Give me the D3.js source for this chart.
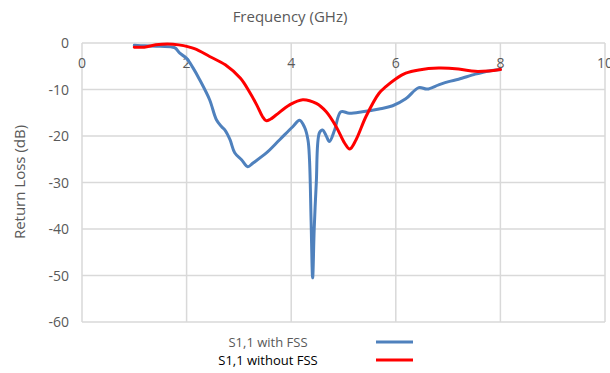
<!DOCTYPE html>
<html>
<head>
<meta charset="utf-8">
<script src="https://cdn.jsdelivr.net/npm/d3@7"></script>
<style>
  body { margin: 0; background: #fff; }
  text { font-family: "Open Sans", "Liberation Sans", sans-serif; }
</style>
</head>
<body>
<div id="chart"></div>
<script>
// frequency (GHz) / return loss (dB)
var freqWith = [1.0, 1.2, 1.5, 1.77, 1.87, 2.0, 2.12, 2.25, 2.44, 2.57, 2.67, 2.73, 2.83, 2.92, 3.05, 3.17, 3.27, 3.52, 3.78, 4.03, 4.16, 4.25, 4.32, 4.35, 4.38, 4.41, 4.44, 4.48, 4.54, 4.6, 4.67, 4.73, 4.83, 4.95, 5.11, 5.36, 5.68, 5.94, 6.19, 6.44, 6.6, 6.82, 7.01, 7.2, 7.52, 7.78, 8.0];
var lossWith = [-0.5, -0.6, -0.7, -1.0, -2.2, -3.3, -5.3, -7.9, -12.2, -16.5, -18.0, -18.7, -20.8, -23.6, -25.1, -26.6, -25.8, -23.7, -20.8, -18.0, -16.6, -18.0, -20.8, -25.1, -38, -50.5, -40, -30, -19.3, -18.7, -20.0, -21.2, -18.7, -14.8, -15.1, -14.8, -14.2, -13.5, -12.0, -9.6, -9.9, -9.0, -8.3, -7.8, -6.7, -6.0, -5.7];

var freqWithout = [1.0, 1.19, 1.41, 1.63, 1.85, 2.15, 2.44, 2.74, 3.03, 3.2, 3.34, 3.45, 3.52, 3.6, 3.71, 3.97, 4.22, 4.48, 4.67, 4.86, 5.02, 5.12, 5.24, 5.43, 5.68, 5.81, 5.99, 6.19, 6.44, 6.82, 7.2, 7.52, 7.78, 8.0];
var lossWithout = [-0.9, -0.9, -0.4, -0.2, -0.4, -1.2, -2.9, -4.7, -7.6, -10.5, -13.3, -15.8, -16.7, -16.4, -15.5, -13.3, -12.2, -13.0, -14.8, -18.0, -21.5, -22.8, -20.8, -15.8, -10.8, -9.4, -7.8, -6.5, -5.8, -5.4, -5.6, -6.1, -6.0, -5.7];

var xTicks = [0, 2, 4, 6, 8, 10];
var yTicks = [0, -10, -20, -30, -40, -50, -60];
var seriesNames = ["S1,1 with FSS", "S1,1 without FSS"];
var seriesColors = ["#4f81bd", "#ff0000"];

var width = 610, height = 373;
var plotLeft = 82, plotRight = 605, plotTop = 43, plotBottom = 322;

var svg = d3.select("#chart").append("svg")
  .attr("width", width)
  .attr("height", height);

var x = d3.scaleLinear().domain([0, 10]).range([plotLeft, plotRight]);
var y = d3.scaleLinear().domain([-60, 0]).range([plotBottom, plotTop]);

// grid
svg.append("g").selectAll("line").data(yTicks).enter().append("line")
  .attr("x1", plotLeft).attr("x2", plotRight)
  .attr("y1", function(d) { return y(d); })
  .attr("y2", function(d) { return y(d); })
  .attr("stroke", "#d9d9d9").attr("stroke-width", 1.5);

svg.append("g").selectAll("line").data(xTicks).enter().append("line")
  .attr("x1", function(d) { return x(d); })
  .attr("x2", function(d) { return x(d); })
  .attr("y1", plotTop).attr("y2", plotBottom)
  .attr("stroke", "#d9d9d9").attr("stroke-width", 1.5);

// tick labels
svg.append("g").selectAll("text").data(xTicks).enter().append("text")
  .attr("x", function(d) { return x(d); })
  .attr("y", 68)
  .attr("text-anchor", "middle")
  .attr("fill", "#595959")
  .style("font-size", "14px")
  .text(function(d) { return d; });

svg.append("g").selectAll("text").data(yTicks).enter().append("text")
  .attr("x", 69)
  .attr("y", function(d) { return y(d) + 5; })
  .attr("text-anchor", "end")
  .attr("fill", "#595959")
  .style("font-size", "14px")
  .text(function(d) { return d; });

// titles
svg.append("text")
  .attr("x", 290).attr("y", 22)
  .attr("text-anchor", "middle")
  .attr("fill", "#595959")
  .style("font-size", "15px")
  .text("Frequency (GHz)");

svg.append("text")
  .attr("transform", "translate(25,182) rotate(-90)")
  .attr("text-anchor", "middle")
  .attr("fill", "#595959")
  .style("font-size", "15px")
  .text("Return Loss (dB)");

// curves
var line = d3.line()
  .x(function(d) { return x(d[0]); })
  .y(function(d) { return y(d[1]); })
  .curve(d3.curveCatmullRom.alpha(0.5));

var series = [d3.zip(freqWith, lossWith), d3.zip(freqWithout, lossWithout)];

svg.append("g").selectAll("path").data(series).enter().append("path")
  .attr("d", line)
  .attr("fill", "none")
  .attr("stroke", function(d, i) { return seriesColors[i]; })
  .attr("stroke-width", 3)
  .attr("stroke-linejoin", "round")
  .attr("stroke-linecap", "round");

// legend
var legend = svg.append("g").selectAll("g").data(seriesNames).enter().append("g")
  .attr("transform", function(d, i) { return "translate(0," + (342 + i * 18) + ")"; });

legend.append("text")
  .attr("x", 268).attr("y", 5)
  .attr("text-anchor", "middle")
  .attr("fill", function(d, i) { return i == 0 ? "#595959" : "#000"; })
  .style("font-size", "13px")
  .text(function(d) { return d; });

legend.append("line")
  .attr("x1", 376).attr("x2", 413)
  .attr("y1", 0).attr("y2", 0)
  .attr("stroke", function(d, i) { return seriesColors[i]; })
  .attr("stroke-width", 3);
</script>
</body>
</html>
